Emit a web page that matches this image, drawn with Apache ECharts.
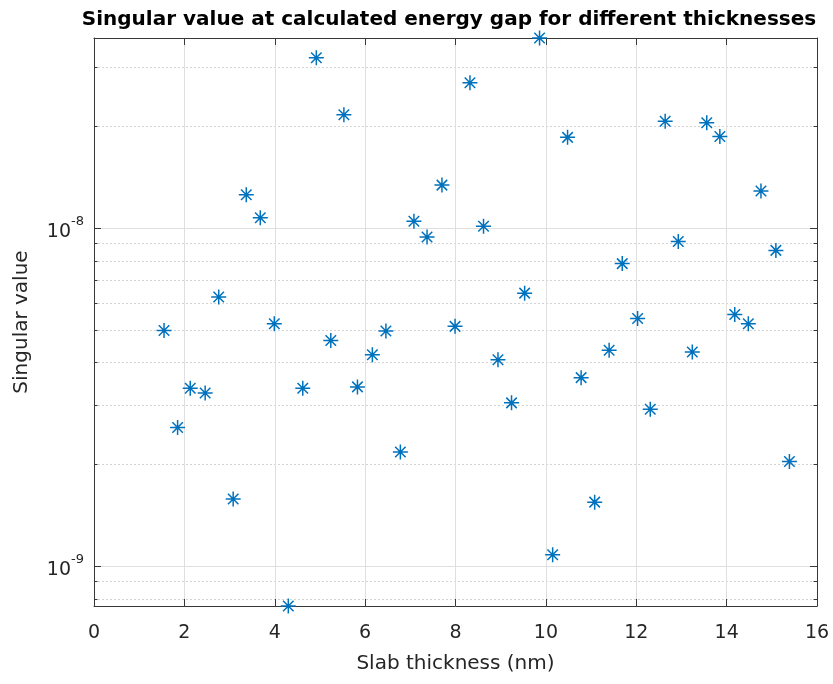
<!DOCTYPE html>
<html>
<head>
<meta charset="utf-8">
<script src="https://cdn.jsdelivr.net/npm/echarts@6/dist/echarts.min.js"></script>
<style>
html,body{margin:0;padding:0;background:#fff;}
#chart{width:833px;height:684px;}
</style>
</head>
<body>
<div id="chart"></div>
<script>
// ---- data ----
const thickness = [1.55, 1.85, 2.13, 2.46, 2.76, 3.08, 3.37, 3.68, 3.99, 4.30, 4.62, 4.92, 5.24, 5.53, 5.83, 6.16, 6.46, 6.78, 7.08, 7.37, 7.70, 7.99, 8.32, 8.62, 8.94, 9.24, 9.53, 9.86, 10.15, 10.48, 10.78, 11.08, 11.40, 11.69, 12.03, 12.31, 12.64, 12.93, 13.24, 13.56, 13.85, 14.18, 14.48, 14.76, 15.09, 15.39];
const singularValue = [4.98e-9, 2.57e-9, 3.36e-9, 3.25e-9, 6.25e-9, 1.58e-9, 1.255e-8, 1.073e-8, 5.21e-9, 7.62e-10, 3.36e-9, 3.19e-8, 4.65e-9, 2.165e-8, 3.39e-9, 4.22e-9, 4.96e-9, 2.175e-9, 1.047e-8, 9.41e-9, 1.34e-8, 5.12e-9, 2.69e-8, 1.012e-8, 4.08e-9, 3.04e-9, 6.42e-9, 3.65e-8, 1.08e-9, 1.855e-8, 3.61e-9, 1.546e-9, 4.35e-9, 7.85e-9, 5.40e-9, 2.91e-9, 2.07e-8, 9.13e-9, 4.30e-9, 2.05e-8, 1.867e-8, 5.55e-9, 5.21e-9, 1.287e-8, 8.59e-9, 2.04e-9];
const xTicks = [0, 2, 4, 6, 8, 10, 12, 14, 16];
const yMajorTicks = [1e-9, 1e-8];
const yMinorTicks = [8e-10, 9e-10, 2e-9, 3e-9, 4e-9, 5e-9, 6e-9, 7e-9, 8e-9, 9e-9, 2e-8, 3e-8];
const xMin = 0, xMax = 16, xStep = 2;
const yMin = 7.62e-10, yMax = 3.65e-8;
const titleText = 'Singular value at calculated energy gap for different thicknesses';
const xName = 'Slab thickness (nm)';
const yName = 'Singular value';

// ---- styling ----
const FONT = 'DejaVu Sans';
const AXIS_COLOR = '#383838';
const TEXT_COLOR = '#262626';
const GRID_COLOR = '#dfdfdf';
const MINOR_GRID_COLOR = '#d4d4d4';
const MARKER_COLOR = '#0072BD';

const chart = echarts.init(document.getElementById('chart'), null, {renderer: 'canvas'});

function baseX(pos) {
  return {
    type: 'value', position: pos, min: xMin, max: xMax, interval: xStep,
    axisLine: {show: true, onZero: false, lineStyle: {color: AXIS_COLOR, width: 1}},
    axisTick: {show: true, inside: true, length: 7, lineStyle: {color: AXIS_COLOR, width: 1}},
    axisLabel: {show: false},
    splitLine: {show: false}
  };
}
function baseY(pos, minor) {
  return {
    type: 'log', logBase: 10, position: pos, min: yMin, max: yMax,
    axisLine: {show: !minor, onZero: false, lineStyle: {color: AXIS_COLOR, width: 1}},
    axisTick: {show: true, inside: true, length: minor ? 3.5 : 7,
      customValues: minor ? yMinorTicks : yMajorTicks,
      lineStyle: {color: AXIS_COLOR, width: 1}},
    axisLabel: {show: false},
    splitLine: {show: false},
    minorTick: {show: false},
    minorSplitLine: {show: false}
  };
}

const xBottom = baseX('bottom');
xBottom.axisLabel = {show: true, color: TEXT_COLOR, fontFamily: FONT, fontSize: 19, margin: 18,
  customValues: xTicks};
xBottom.splitLine = {show: true, lineStyle: {color: GRID_COLOR, width: 1, type: 'solid'}};
xBottom.name = xName;
xBottom.nameLocation = 'middle';
xBottom.nameGap = 48;
xBottom.nameTextStyle = {color: TEXT_COLOR, fontFamily: FONT, fontSize: 20};
const xTop = baseX('top');

const yLeftMajor = baseY('left', false);
yLeftMajor.axisLabel = {
  show: true, margin: 10, customValues: yMajorTicks,
  formatter: function (v) {
    const e = Math.round(Math.log10(v));
    return '{b|10}{s|' + e + '}';
  },
  rich: {
    b: {fontFamily: FONT, fontSize: 19, color: TEXT_COLOR, lineHeight: 26, verticalAlign: 'bottom'},
    s: {fontFamily: FONT, fontSize: 13, color: TEXT_COLOR, lineHeight: 14, verticalAlign: 'top'}
  }
};
yLeftMajor.splitLine = {show: true, lineStyle: {color: GRID_COLOR, width: 1, type: 'solid'}};
yLeftMajor.name = yName;
yLeftMajor.nameLocation = 'middle';
yLeftMajor.nameGap = 62;
yLeftMajor.nameTextStyle = {color: TEXT_COLOR, fontFamily: FONT, fontSize: 20};

const yLeftMinor = baseY('left', true);
yLeftMinor.splitLine = {show: true, lineStyle: {color: MINOR_GRID_COLOR, width: 1, type: [2, 2]}};
const yRightMajor = baseY('right', false);
const yRightMinor = baseY('right', true);

const option = {
  backgroundColor: '#ffffff',
  animation: false,
  title: {
    text: titleText,
    left: 444, top: 5, textAlign: 'center',
    textStyle: {fontFamily: FONT, fontWeight: 'bold', fontSize: 20, color: '#000000'}
  },
  grid: {left: 94, right: 16, top: 38, bottom: 78, containLabel: false},
  xAxis: [xBottom, xTop],
  yAxis: [yLeftMinor, yLeftMajor, yRightMajor, yRightMinor],
  series: [{
    type: 'scatter',
    xAxisIndex: 0, yAxisIndex: 1,
    clip: false,
    symbol: 'path://M10,0 L10,20 M0,10 L20,10 M3,3 L17,17 M3,17 L17,3',
    symbolSize: 15,
    itemStyle: {color: MARKER_COLOR, borderColor: MARKER_COLOR, borderWidth: 1.5, opacity: 1},
    emphasis: {disabled: true},
    data: thickness.map((t, i) => [t, singularValue[i]]),
    z: 10
  }]
};
chart.setOption(option);
</script>
</body>
</html>
